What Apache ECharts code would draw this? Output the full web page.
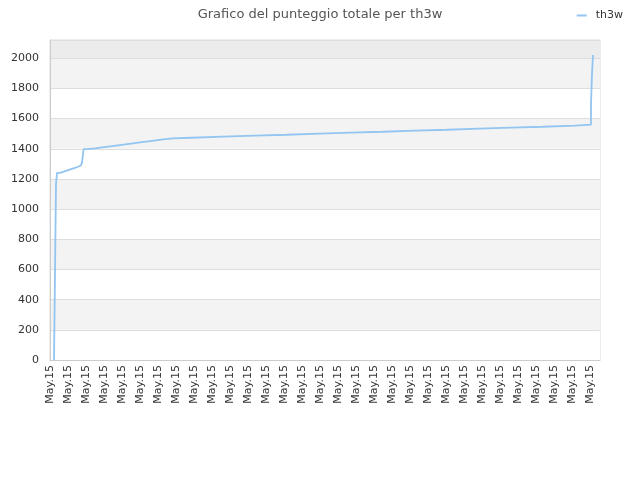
<!DOCTYPE html>
<html>
<head>
<meta charset="utf-8">
<script src="https://cdn.jsdelivr.net/npm/echarts@6/dist/echarts.min.js"></script>
<style>html,body{margin:0;padding:0;background:#fff}#c{width:640px;height:480px}</style>
</head>
<body>
<div id="c"></div>
<script>
// sample position (time index) at which the score changes, and the new score
const sampleIdx = [2, 2.5, 3, 3.5, 5, 6.5, 8, 9.5, 11, 12.5, 14, 15.5, 16, 16.8, 18.5, 22.5, 26, 30, 34, 37.5, 41.5, 45, 49, 53, 56.5, 61.5, 70.5, 86.5, 102.5, 118.5, 134.5, 150.5, 166.5, 182.5, 198.5, 214.5, 230.5, 246.5, 262.5, 270.5, 271, 271.5];
const score = [0, 575, 1165, 1240, 1247, 1253, 1260, 1267, 1274, 1281, 1290, 1300, 1310, 1398, 1403, 1410, 1416, 1423, 1429, 1436, 1443, 1449, 1456, 1462, 1469, 1473, 1480, 1487, 1493, 1500, 1507, 1513, 1520, 1526, 1533, 1540, 1546, 1553, 1560, 1700, 1895, 2022];
const xTickLabels = ['May.15','May.15','May.15','May.15','May.15','May.15','May.15','May.15','May.15','May.15','May.15','May.15','May.15','May.15','May.15','May.15','May.15','May.15','May.15','May.15','May.15','May.15','May.15','May.15','May.15','May.15','May.15','May.15','May.15','May.15','May.15'];
const seriesName = 'th3w';

const data = sampleIdx.map((x, i) => [x, score[i]]);
const chart = echarts.init(document.getElementById('c'));
const font = 'DejaVu Sans';
chart.setOption({
  animation: false,
  backgroundColor: '#fff',
  title: {
    text: 'Grafico del punteggio totale per th3w',
    left: 'center', top: 3,
    textStyle: { fontFamily: font, fontSize: 13, fontWeight: 'normal', color: '#555' }
  },
  legend: {
    right: 12, top: 5,
    itemWidth: 10, itemHeight: 2, itemGap: 6,
    icon: 'rect',
    textStyle: { fontFamily: font, fontSize: 11, color: '#333', padding: [0, 0, 0, 4] },
    data: [seriesName]
  },
  grid: { left: 50, right: 40, top: 40, bottom: 120, show: true, borderColor: '#dcdcdc', borderWidth: 1, backgroundColor: 'transparent' },
  xAxis: {
    type: 'value', min: 0, max: 275, interval: 9,
    axisLine: { show: true, lineStyle: { color: '#ccc' } },
    axisTick: { show: false },
    splitLine: { show: false },
    axisLabel: {
      rotate: 90, fontFamily: font, fontSize: 11, color: '#333', margin: 5,
      showMaxLabel: false,
      formatter: v => xTickLabels[Math.round(v / 9)] || ''
    }
  },
  yAxis: {
    type: 'value', min: 0, max: 2121, interval: 200,
    axisLine: { show: true, lineStyle: { color: '#ccc' } },
    axisTick: { show: false },
    axisLabel: { fontFamily: font, fontSize: 11, color: '#333', margin: 11, showMaxLabel: false, formatter: v => String(v) },
    splitLine: { show: true, lineStyle: { color: '#dedede' } },
    splitArea: { show: true, areaStyle: { color: ['#ffffff','#f3f3f3','#ffffff','#f3f3f3','#ffffff','#f3f3f3','#ffffff','#f3f3f3','#ffffff','#f3f3f3','#ececec'] } }
  },
  series: [{
    name: seriesName,
    type: 'line',
    step: 'end',
    showSymbol: false,
    symbol: 'none',
    data: data,
    lineStyle: { color: '#92c5f2', width: 1.8 },
    itemStyle: { color: '#92c5f2' }
  }]
});
</script>
</body>
</html>
